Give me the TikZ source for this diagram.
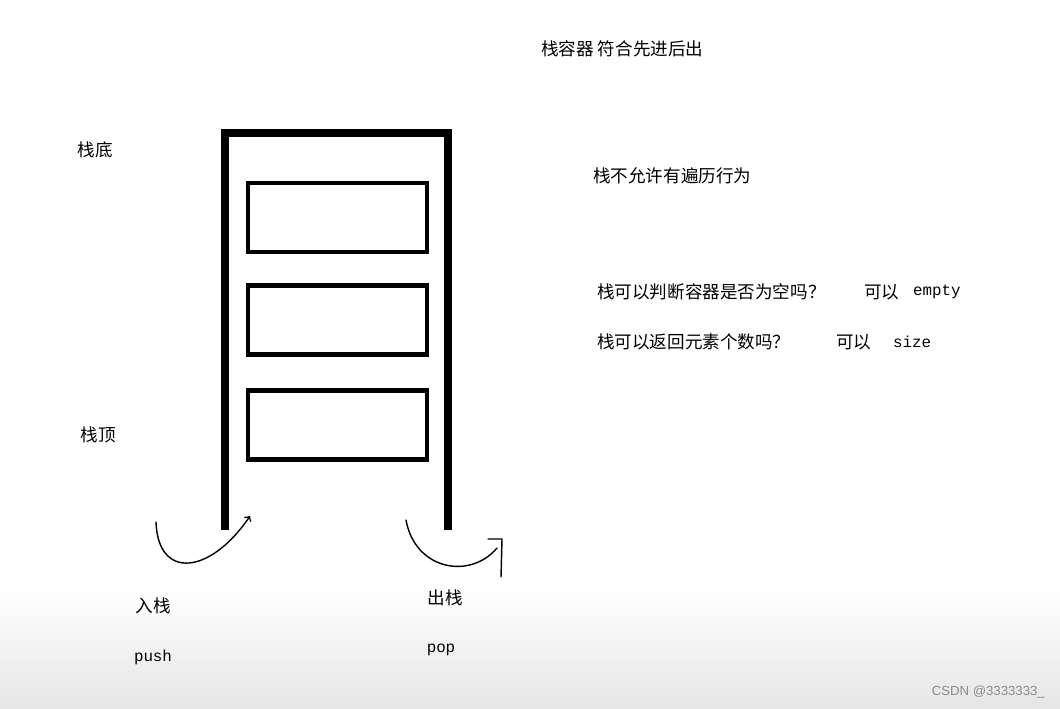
\documentclass[tikz,border=0pt]{standalone}
\usepackage{fontspec}
\newfontfamily\cjk{Noto Sans CJK SC}
\newfontfamily\codefont{Liberation Mono}
\newfontfamily\markfont{Liberation Sans}

\tikzset{
    slot/.style={draw, line width=2.8pt, minimum width=3.58cm, minimum height=1.38cm},
    label/.style={font=\cjk\fontsize{10}{12}\selectfont},
    code/.style={font=\codefont\fontsize{9}{11}\selectfont},
    hand/.style={thick, line cap=round, line join=round}
}

\begin{document}
\begin{tikzpicture}[x=0.02cm, y=-0.02cm]
    \useasboundingbox (0,0) rectangle (1060,708);
    \shade[top color=white, bottom color=black!10] (0,590) rectangle (1060,708);
    % The stack container and its three slots.
        \draw[line width=4pt] (225,530) -- (225,133) -- (448,133) -- (448,530);
        \foreach \y/\name in {217.5/slota, 320/slotb, 425/slotc}
            \node[slot] (\name) at (337.5,\y) {};
    % Below nodes are the labels.
        \node[label, anchor=west] (title) at (535,49) {栈容器\ 符合先进后出};
        \node[label] (bottomlbl) at (95,150) {栈底};
        \node[label] (toplbl) at (98,435) {栈顶};
        \node[label, anchor=west] (rule) at (587,176) {栈不允许有遍历行为};
        \node[label, anchor=west] (askempty) at (591,292) {栈可以判断容器是否为空吗？};
        \node[label, anchor=west] (yesempty) at (858,292) {可以};
        \node[code, anchor=west] (empty) at (907,292) {empty};
        \node[label, anchor=west] (asksize) at (591,342) {栈可以返回元素个数吗？};
        \node[label, anchor=west] (yessize) at (830,342) {可以};
        \node[code, anchor=west] (size) at (887,342) {size};
        \node[label] (pushlbl) at (153,606) {入栈};
        \node[code] (push) at (153,657) {push};
        \node[label] (poplbl) at (445,598) {出栈};
        \node[code] (pop) at (441,650) {pop};
        \node[font=\markfont\fontsize{7.5}{9}\selectfont, text=black!45, anchor=east] (mark) at (1051,692) {CSDN @3333333\_};
    % This draws the push and pop arrows.
        \coordinate (pushstart) at (156,522);
        \coordinate (pushend) at (250,516);
        \draw[hand, ->] (pushstart) .. controls (158,580) and (210,575) .. (pushend);
        \coordinate (popstart) at (406,520);
        \coordinate (popend) at (497,548);
        \draw[hand] (popstart) .. controls (415,570) and (470,580) .. (popend);
        \draw[hand] (488,539) -- (502,539) -- (501,577);
\end{tikzpicture}
\end{document}
